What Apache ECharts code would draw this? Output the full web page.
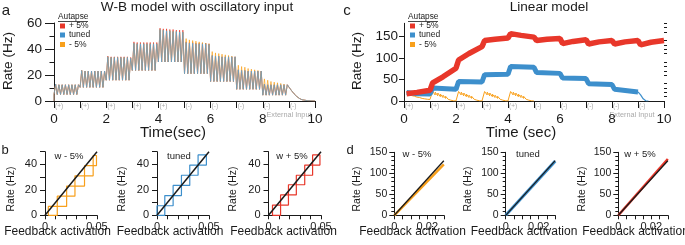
<!DOCTYPE html>
<html>
<head>
<meta charset="utf-8">
<script src="https://cdn.jsdelivr.net/npm/echarts@6/dist/echarts.min.js"></script>
<style>
html, body { margin: 0; background: #fff; }
#chart { width: 685px; height: 245px; }
</style>
</head>
<body>
<div id="chart"></div>
<script>
const RED = '#e8372a', BLUE = '#3d8fcc', ORANGE = '#f8a01c', INK = '#1a1a1a'
const FONT = '"Liberation Sans", Arial, sans-serif'

// a: W-B model, one row per 1 s input segment, peak of every oscillation cycle
const wbTunedPeaks = [
  [13, 12.5, 12.5, 12.5, 12.5, 12.5, 12.5, 12.5],
  [23.5, 23, 23, 23, 23, 23, 23, 23],
  [34, 33.5, 33.5, 33.5, 33.5, 33.5, 33.5, 33],
  [44.5, 44, 44, 44, 44, 44, 44, 44],
  [55, 54.5, 54, 54, 53.5, 53.5, 53, 53],
  [45, 44.5, 44.5, 44, 44, 44, 44, 43.5],
  [35, 34.5, 34.5, 34, 34, 34, 34, 34],
  [24, 23.5, 23.5, 23, 23, 23, 23, 23],
  [13, 12.5, 12.5, 12.5, 12.5, 12.5, 12.5, 12.5]
]
const wbPlusPeaks = [
  [13, 12.5, 12.5, 12.5, 12.5, 12.5, 12.5, 12.5],
  [23.5, 23, 23, 23, 23, 23, 23, 23],
  [34.5, 34, 34, 34, 34, 34, 34, 33.5],
  [45.5, 45, 45, 45, 45, 45, 45, 45],
  [56, 55.5, 55.5, 55, 55, 54.5, 54.5, 54.5],
  [45.5, 45, 45, 44.5, 44.5, 44.5, 44.5, 44],
  [35, 34.5, 34.5, 34, 34, 34, 34, 34],
  [24, 23.5, 23.5, 23, 23, 23, 23, 23],
  [13, 12.5, 12.5, 12.5, 12.5, 12.5, 12.5, 12.5]
]
const wbMinusPeaks = [
  [13, 12.5, 12.5, 12.5, 12.5, 12.5, 12.5, 12.5],
  [23.5, 23, 23, 23, 23, 23, 23, 23],
  [34, 33.5, 33.5, 33.5, 33.5, 33.5, 33.5, 33],
  [44.5, 44, 44, 44, 44, 44, 44, 44],
  [55, 54.5, 54, 54, 53.5, 53.5, 53, 53],
  [48, 47, 46.5, 46, 45.5, 45, 44.5, 44],
  [38, 37, 36.5, 36, 35.5, 35, 34.5, 34],
  [27.5, 26.5, 26, 25, 24.5, 24, 23.5, 23],
  [17, 16, 15, 14.5, 14, 13.5, 13, 12.5]
]
const wbTroughs = [5, 10.5, 16, 23.5, 30, 21, 15, 9, 4.5]
const wbDecayTime = [9.0, 9.1, 9.2, 9.3, 9.4, 9.5, 9.7, 10]
const wbDecayRate = [11, 8, 5.5, 3.5, 2, 1, 0.3, 0]
const inputTimes = [0, 1, 2, 3, 4, 5, 6, 7, 8, 9]
const inputSigns = ['(+)', '(+)', '(+)', '(+)', '(+)', '(-)', '(-)', '(-)', '(-)', '(-)']

// c: linear model, [time, rate]
const linPlus = [[0.1, 17], [0.5, 20], [1.0, 25], [1.1, 42], [1.5, 56], [2.0, 76], [2.1, 95], [2.5, 110],
  [3.0, 126], [3.1, 140], [3.5, 143], [4.0, 146], [4.1, 156], [4.5, 152], [5.0, 148], [5.1, 140],
  [5.5, 143], [6.0, 145], [6.1, 133], [6.5, 138], [7.0, 142], [7.1, 132], [7.5, 137], [8.0, 140],
  [8.1, 132], [8.5, 137], [9.0, 140], [9.1, 130], [9.5, 136], [10, 140]]
const linTuned = [[0.1, 20], [0.5, 17], [1.0, 16], [1.1, 30], [2.0, 27], [2.1, 45], [3.0, 44], [3.1, 61],
  [4.0, 62], [4.1, 80], [5.0, 78], [5.1, 66], [6.0, 64], [6.1, 53], [7.0, 52], [7.1, 40], [8.0, 38],
  [8.1, 27], [9.0, 21]]
const linTunedTail = [[9.0, 21], [9.1, 14], [9.2, 5], [9.3, 0.5], [9.4, 0]]
// - 5%: decaying sawtooth after each (+) input
const linMinusStart = [0.1, 1.1, 2.1, 3.1, 4.1]
const linMinusPeaks = [
  [20, 18.5, 17, 15, 13, 11, 9, 8, 7],
  [22, 20.5, 18.5, 16, 13.5, 11, 8, 5, 2],
  [22, 20.5, 18.5, 16, 13.5, 11, 8, 5, 2],
  [22, 20.5, 18.5, 16, 13.5, 11, 8, 5, 2],
  [22, 20.5, 18.5, 16, 13.5, 11, 8, 5, 2]
]
const linMinusTroughs = [
  [14, 12.5, 11, 9, 8, 6, 5, 4, 3.5],
  [14, 12, 10, 8, 6, 4, 2, 0.5, 0],
  [14, 12, 10, 8, 6, 4, 2, 0.5, 0],
  [14, 12, 10, 8, 6, 4, 2, 0.5, 0],
  [14, 12, 10, 8, 6, 4, 2, 0.5, 0]
]
const toothGap = 0.1

// b: rate vs feedback activation, chain of boxes touching corner to corner
const bMinusActEdges = [0.0032, 0.0118, 0.0208, 0.0288, 0.038, 0.0463, 0.0495]
const bMinusRateEdges = [0, 7, 15, 23, 31, 39, 47]
const bTunedActEdges = [0, 0.0075, 0.0155, 0.0235, 0.0315, 0.0395, 0.0475]
const bTunedRateEdges = [0, 7.5, 15.5, 23.5, 31.5, 39.5, 47.5]
const bPlusActEdges = [0.0038, 0.0115, 0.019, 0.0265, 0.0345, 0.042, 0.049]
const bPlusRateEdges = [0, 8, 16, 24, 31.5, 39.5, 47.5]
const bLine = [[0, 0], [0.05, 50]]

// d: linear model, rate vs feedback activation
const dLine = [[0, 0], [0.03, 130]]
const dMinus = [[0, 0], [0.03, 121]]
const dTuned = [[0, 0], [0.03, 129]]
const dPlus = [[0, 0], [0.03, 134]]

function wbTrace(peaks) {
  const pts = [[0, 0]]
  peaks.forEach((seg, i) => {
    const n = seg.length
    seg.forEach((p, k) => {
      pts.push([i + k / n, wbTroughs[i]])
      pts.push([i + (k + 0.5) / n, p])
    })
  })
  wbDecayTime.forEach((t, j) => pts.push([t, wbDecayRate[j]]))
  return pts
}

function sawtooth() {
  const pts = []
  linMinusStart.forEach((t0, i) => {
    linMinusPeaks[i].forEach((p, k) => {
      const t = t0 + k * toothGap
      pts.push([t, linMinusTroughs[i][k - 1] ?? p])
      pts.push([t, p])
      pts.push([t + toothGap * 0.98, linMinusTroughs[i][k]])
    })
  })
  pts.push([5.0, 0])
  return pts
}

function boxes(xs, ys) {
  const pts = []
  for (let k = 0; k < xs.length - 1; k++) {
    const x0 = xs[k], x1 = xs[k + 1], y0 = ys[k], y1 = ys[k + 1]
    pts.push([x0, y0], [x0, y1], [x1, y1], [x1, y0], [x0, y0], null)
  }
  return pts
}

function line(name, data, color, width, xi, yi, z) {
  return {
    name, type: 'line', data, xAxisIndex: xi, yAxisIndex: yi, symbol: 'none', z: z || 2,
    lineStyle: { color, width }, itemStyle: { color }, connectNulls: false, silent: true
  }
}

const tickLine = { color: INK, width: 1 }
const timeAxis = (g) => ({
  type: 'value', gridIndex: g, min: 0, max: 10, interval: 1,
  axisLine: { show: true, onZero: false, lineStyle: tickLine },
  axisTick: { show: true, length: 7, lineStyle: tickLine },
  axisLabel: { fontSize: 13.5, color: INK, fontFamily: FONT, margin: 11, formatter: v => v % 2 === 0 ? v : '' },
  splitLine: { show: false }
})
const actAxis = (g, max, labels, interval) => ({
  type: 'value', gridIndex: g, min: 0, max, interval,
  axisLine: { show: true, onZero: false, lineStyle: tickLine },
  axisTick: { show: true, length: 4, lineStyle: tickLine },
  axisLabel: {
    fontSize: 11, color: INK, fontFamily: FONT, margin: 6,
    formatter: v => { const s = labels.find(l => Math.abs(l - v) < 1e-9); return s === undefined ? '' : String(s) }
  },
  splitLine: { show: false }
})
const smallRate = (g) => ({
  type: 'value', gridIndex: g, min: 0, max: 50, interval: 10,
  axisLine: { show: true, lineStyle: tickLine },
  axisTick: { show: true, length: 5, lineStyle: tickLine },
  axisLabel: { fontSize: 11, color: INK, fontFamily: FONT, margin: 8, formatter: v => v % 20 === 0 ? v : '' },
  splitLine: { show: false }
})
const dRate = (g) => ({
  type: 'value', gridIndex: g, min: 0, max: 150, interval: 50,
  axisLine: { show: true, lineStyle: tickLine },
  axisTick: { show: true, length: 5, lineStyle: tickLine },
  minorTick: { show: true, splitNumber: 5, length: 3, lineStyle: tickLine },
  axisLabel: { fontSize: 10.5, color: INK, fontFamily: FONT, margin: 7 },
  splitLine: { show: false }, minorSplitLine: { show: false }
})

const txt = (text, x, y, size, opts) => ({
  type: 'text', x, y, rotation: (opts && opts.rot) || 0, silent: true,
  style: {
    text, fontSize: size, fontFamily: FONT, fill: (opts && opts.fill) || INK,
    align: (opts && opts.align) || 'center', verticalAlign: 'middle'
  }
})
const sq = (x, y, color) => ({ type: 'rect', shape: { x, y, width: 5, height: 5 }, style: { fill: color }, silent: true })
const legend = (x0) => [
  txt('Autapse', x0, 16.5, 8.3, { align: 'left' }),
  { type: 'line', shape: { x1: x0, y1: 21.5, x2: x0 + 30, y2: 21.5 }, style: { stroke: INK, lineWidth: 0.8 }, silent: true },
  sq(x0 + 2, 23.5, RED), txt('+ 5%', x0 + 11, 26, 8.5, { align: 'left' }),
  sq(x0 + 2, 32.5, BLUE), txt('tuned', x0 + 11, 35, 8.5, { align: 'left' }),
  sq(x0 + 2, 42, ORANGE), txt('- 5%', x0 + 11, 44.5, 8.5, { align: 'left' })
]

const baseGraphic = [
  txt('a', 6, 11, 15), txt('c', 347, 11, 15), txt('b', 5, 150, 13), txt('d', 350, 150, 13),
  txt('W-B model with oscillatory input', 197, 7.5, 13.6),
  txt('Linear model', 549, 7.5, 13.6),
  txt('Rate (Hz)', 8, 61, 13.6, { rot: Math.PI / 2 }),
  txt('Rate (Hz)', 357, 61, 13.6, { rot: Math.PI / 2 }),
  txt('Time(sec)', 173, 133, 15),
  txt('Time (sec)', 521, 133, 15),
  txt('External Input', 289, 114.5, 7.3, { fill: '#aaa' }),
  txt('External Input', 632, 114.5, 7.3, { fill: '#aaa' }),
  ...legend(58), ...legend(408),
  txt('w - 5%', 69, 156, 9.5), txt('tuned', 179, 156, 9.5), txt('w + 5%', 292, 156, 9.5),
  txt('w - 5%', 417, 154.5, 9.5), txt('tuned', 528, 154.5, 9.5), txt('w + 5%', 640, 154.5, 9.5),
  txt('Rate (Hz)', 11, 189, 10.5, { rot: Math.PI / 2 }),
  txt('Rate (Hz)', 122, 189, 10.5, { rot: Math.PI / 2 }),
  txt('Rate (Hz)', 233, 189, 10.5, { rot: Math.PI / 2 }),
  txt('Rate (Hz)', 357, 189, 10.5, { rot: Math.PI / 2 }),
  txt('Rate (Hz)', 468, 189, 10.5, { rot: Math.PI / 2 }),
  txt('Rate (Hz)', 582, 189, 10.5, { rot: Math.PI / 2 }),
  txt('Feedback activation', 57.5, 232, 12), txt('Feedback activation', 170, 232, 12),
  txt('Feedback activation', 283.5, 232, 12),
  txt('Feedback activation', 412.5, 232, 12), txt('Feedback activation', 524, 232, 12),
  txt('Feedback activation', 635.5, 232, 12)
]

const chart = echarts.init(document.getElementById('chart'), null, { renderer: 'canvas' })
chart.setOption({
  animation: false,
  backgroundColor: '#fff',
  grid: [
    { left: 54, top: 23, width: 261, height: 78 },
    { left: 404, top: 23.3, width: 260, height: 77.7 },
    { left: 45, top: 151.7, width: 52, height: 63.6 },
    { left: 157, top: 151.7, width: 52, height: 63.6 },
    { left: 268.5, top: 151.7, width: 52.5, height: 63.6 },
    { left: 394.3, top: 152.3, width: 49.5, height: 63 },
    { left: 505.7, top: 152.3, width: 49.5, height: 63 },
    { left: 618.3, top: 152.3, width: 49.5, height: 63 }
  ],
  xAxis: [
    timeAxis(0), timeAxis(1),
    actAxis(2, 0.05, [0, 0.05], 0.01), actAxis(3, 0.05, [0, 0.05], 0.01), actAxis(4, 0.05, [0, 0.05], 0.01),
    actAxis(5, 0.03, [0, 0.02], 0.005), actAxis(6, 0.03, [0, 0.02], 0.005), actAxis(7, 0.03, [0, 0.02], 0.005)
  ],
  yAxis: [
    {
      type: 'value', gridIndex: 0, min: 0, max: 60, interval: 20,
      axisLine: { show: true, lineStyle: tickLine },
      axisTick: { show: true, length: 9, lineStyle: tickLine },
      minorTick: { show: true, splitNumber: 2, length: 4.5, lineStyle: tickLine },
      axisLabel: { fontSize: 13.5, color: INK, fontFamily: FONT, margin: 12 },
      splitLine: { show: false }, minorSplitLine: { show: false }
    },
    {
      type: 'value', gridIndex: 1, min: 0, max: 180,
      axisLine: { show: true, lineStyle: tickLine },
      axisTick: { show: true, length: 5, lineStyle: tickLine, customValues: [0, 50, 100, 150] },
      axisLabel: { fontSize: 13.5, color: INK, fontFamily: FONT, margin: 6, customValues: [0, 50, 100, 150] },
      splitLine: { show: false }
    },
    {
      type: 'value', gridIndex: 1, min: 0, max: 180,
      axisLine: { show: false },
      axisTick: { show: true, length: 3, lineStyle: tickLine,
        customValues: [10, 20, 30, 40, 60, 70, 80, 90, 110, 120, 130, 140, 160, 170, 180] },
      axisLabel: { show: false },
      splitLine: { show: false }
    },
    smallRate(2), smallRate(3), smallRate(4),
    dRate(5), dRate(6), dRate(7)
  ],
  series: [
    line('+ 5%', wbTrace(wbPlusPeaks), RED, 0.7, 0, 0, 2),
    line('- 5%', wbTrace(wbMinusPeaks), ORANGE, 0.7, 0, 0, 3),
    line('tuned', wbTrace(wbTunedPeaks), '#5aa0d6', 0.7, 0, 0, 4),

    line('- 5%', sawtooth(), ORANGE, 1, 1, 1, 2),
    line('tuned', linTuned, BLUE, 5, 1, 1, 3),
    line('tuned', linTunedTail, BLUE, 1.2, 1, 1, 3),
    line('+ 5%', linPlus, RED, 5.5, 1, 1, 4),

    line('b-', boxes(bMinusActEdges, bMinusRateEdges), ORANGE, 1.2, 2, 3, 2),
    line('bl1', bLine, INK, 1.5, 2, 3, 3),
    line('bt', boxes(bTunedActEdges, bTunedRateEdges), BLUE, 1.2, 3, 4, 2),
    line('bl2', bLine, INK, 1.5, 3, 4, 3),
    line('b+', boxes(bPlusActEdges, bPlusRateEdges), RED, 1.2, 4, 5, 2),
    line('bl3', bLine, INK, 1.5, 4, 5, 3),

    line('d-', dMinus, ORANGE, 2.5, 5, 6, 2),
    line('dl1', dLine, INK, 1.3, 5, 6, 3),
    line('dt', dTuned, BLUE, 3, 6, 7, 2),
    line('dl2', dLine, INK, 1.2, 6, 7, 3),
    line('d+', dPlus, RED, 2.5, 7, 8, 2),
    line('dl3', dLine, INK, 1.3, 7, 8, 3)
  ]
})

// input markers beside each tick, placed through the time axes
const marks = []
;[0, 1].forEach(g => {
  inputTimes.forEach((t, i) => {
    const [px, py] = chart.convertToPixel({ gridIndex: g }, [t, 0])
    marks.push(txt(inputSigns[i], px + 1, py + 5.5, 6.5, { align: 'left', fill: '#aaa' }))
  })
})
chart.setOption({ graphic: baseGraphic.concat(marks) })
</script>
</body>
</html>
